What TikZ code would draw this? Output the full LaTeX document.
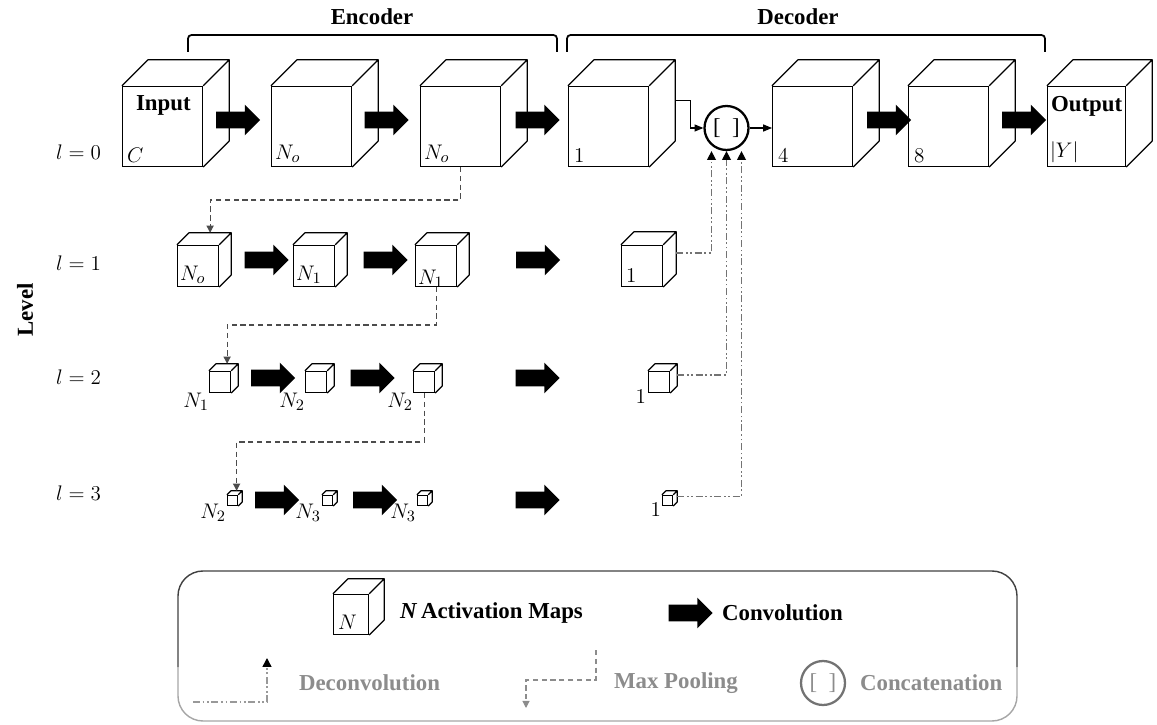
\documentclass[tikz,border=0pt]{standalone}
\usepackage{fontspec}
\setmainfont{Liberation Serif}
\usetikzlibrary{shapes.arrows,arrows.meta}

\newcommand{\figfont}{\fontsize{13}{15}\selectfont}
\newcommand{\actmap}[5]{%
  \node[mapface,minimum width=#3,minimum height=#4,anchor=south west] (#1) at (#2) {};
  \draw[mapedge] (#1.north west) -- ++(#5,#5) -- ([shift={(#5,#5)}]#1.north east) -- ([shift={(#5,#5)}]#1.south east) -- (#1.south east) (#1.north east) -- ++(#5,#5);
  \coordinate (#1-top) at ([shift={(#5,#5)}]#1.north);
  \coordinate (#1-side) at ([shift={(#5,#5)}]#1.east);
}

\begin{document}
\begin{tikzpicture}[font=\figfont,
  mapface/.style={draw,fill=white,inner sep=0pt,line width=0.7pt},
  mapedge/.style={line width=0.7pt,line join=round},
  conv/.style={single arrow,fill=black,inner xsep=0pt,inner ysep=0.16cm,minimum height=0.88cm,single arrow head extend=0.14cm,single arrow tip angle=90,single arrow head indent=0pt},
  pool/.style={black!70,line width=0.6pt,dash pattern=on 3pt off 2pt,-{Triangle[length=4pt,width=4pt]}},
  deconv/.style={black!55,line width=0.8pt,dash pattern=on 4pt off 1.5pt on 1pt off 1.5pt on 1pt off 1.5pt,-{Triangle[length=5pt,width=5pt,color=black]}},
  catline/.style={line width=0.6pt,-{Triangle[length=5pt,width=4pt]}},
  concat/.style={circle,draw,line width=1.3pt,minimum size=0.88cm,inner sep=0pt},
  brk/.style={line width=1pt,rounded corners=2pt},
  lbl/.style={inner sep=1pt},
  bold/.style={font=\figfont\bfseries},
  faded/.style={font=\figfont\bfseries,text=black!45}]
\useasboundingbox (0,0) rectangle (23.14,14.48);
\draw[brk] (3.76,13.44) |- (11.14,13.78) -- (11.14,13.44);
\draw[brk] (11.34,13.44) |- (20.90,13.78) -- (20.90,13.44);
\node[bold] (enclbl) at (7.44,14.14) {Encoder};
\node[bold] (declbl) at (15.96,14.14) {Decoder};
\node[bold,rotate=90] (levellbl) at (0.50,8.28) {Level};
\node (lvl0) at (1.57,11.44) {$l=0$};
\node (lvl1) at (1.57,9.22) {$l=1$};
\node (lvl2) at (1.57,6.94) {$l=2$};
\node (lvl3) at (1.57,4.62) {$l=3$};
\actmap{E0a}{2.44,11.14}{1.6cm}{1.6cm}{0.52}
\actmap{E0b}{5.42,11.14}{1.6cm}{1.6cm}{0.52}
\actmap{E0c}{8.40,11.14}{1.6cm}{1.6cm}{0.52}
\actmap{D0a}{11.36,11.14}{1.6cm}{1.6cm}{0.52}
\actmap{D0b}{15.44,11.14}{1.6cm}{1.6cm}{0.52}
\actmap{D0c}{18.16,11.14}{1.6cm}{1.6cm}{0.52}
\actmap{D0d}{20.94,11.14}{1.56cm}{1.6cm}{0.52}
\node[lbl,bold,anchor=north west] at ([shift={(0.24,-0.16)}]E0a.north west) {Input};
\node[lbl,bold,anchor=north west] at ([shift={(0.04,-0.16)}]D0d.north west) {Output};
\node[lbl,anchor=south west] at ([shift={(0.06,0.04)}]E0a.south west) {$C$};
\node[lbl,anchor=south west] at ([shift={(0.04,0.04)}]E0b.south west) {$N_o$};
\node[lbl,anchor=south west] at ([shift={(0.04,0.04)}]E0c.south west) {$N_o$};
\node[lbl,anchor=south west] at ([shift={(0.08,0.04)}]D0a.south west) {$1$};
\node[lbl,anchor=south west] at ([shift={(0.08,0.04)}]D0b.south west) {$4$};
\node[lbl,anchor=south west] at ([shift={(0.08,0.04)}]D0c.south west) {$8$};
\node[lbl,anchor=south west] at ([shift={(0.02,0.04)}]D0d.south west) {$|Y|$};
\node[conv] (c0a) at (4.68,12.08) {};
\node[conv] (c0b) at (7.65,12.08) {};
\node[conv] (c0c) at (10.67,12.08) {};
\node[conv] (c0d) at (17.70,12.08) {};
\node[conv] (c0e) at (20.40,12.08) {};
\node[concat] (cat) at (14.53,11.92) {[\ \ ]};
\draw[catline] (D0a-side) -- ++(0.30,0) |- (cat.west);
\draw[catline] (cat.east) -- (cat.east -| D0b.west);
\actmap{E1a}{3.54,8.74}{0.82cm}{0.82cm}{0.24}
\actmap{E1b}{5.86,8.74}{0.82cm}{0.82cm}{0.24}
\actmap{E1c}{8.30,8.74}{0.82cm}{0.82cm}{0.24}
\actmap{D1}{12.42,8.74}{0.82cm}{0.82cm}{0.26}
\node[lbl,anchor=south west] at ([shift={(0.02,0.02)}]E1a.south west) {$N_o$};
\node[lbl,anchor=south west] at ([shift={(0.02,0.02)}]E1b.south west) {$N_1$};
\node[lbl,anchor=south west] at ([shift={(0.02,-0.06)}]E1c.south west) {$N_1$};
\node[lbl,anchor=south west] at ([shift={(0.06,0.04)}]D1.south west) {$1$};
\node[conv] (c1a) at (5.25,9.28) {};
\node[conv] (c1b) at (7.63,9.28) {};
\node[conv] (c1c) at (10.68,9.28) {};
\actmap{E2a}{4.18,6.62}{0.42cm}{0.42cm}{0.14}
\actmap{E2b}{6.10,6.62}{0.42cm}{0.42cm}{0.14}
\actmap{E2c}{8.26,6.62}{0.42cm}{0.42cm}{0.14}
\actmap{D2}{12.96,6.62}{0.42cm}{0.42cm}{0.14}
\node[lbl,anchor=north east] at ([shift={(0.04,0.04)}]E2a.south west) {$N_1$};
\node[lbl,anchor=north east] at ([shift={(0.04,0.04)}]E2b.south west) {$N_2$};
\node[lbl,anchor=north east] at ([shift={(0.04,0.04)}]E2c.south west) {$N_2$};
\node[lbl,anchor=east] at ([yshift=-0.08cm]D2.south west) {$1$};
\node[conv] (c2a) at (5.38,6.92) {};
\node[conv] (c2b) at (7.37,6.92) {};
\node[conv] (c2c) at (10.67,6.92) {};
\actmap{E3a}{4.54,4.36}{0.2cm}{0.2cm}{0.08}
\actmap{E3b}{6.44,4.36}{0.2cm}{0.2cm}{0.08}
\actmap{E3c}{8.34,4.36}{0.2cm}{0.2cm}{0.08}
\actmap{D3}{13.24,4.36}{0.2cm}{0.2cm}{0.08}
\node[lbl,anchor=north east] at ([shift={(0.02,0.08)}]E3a.south west) {$N_2$};
\node[lbl,anchor=north east] at ([shift={(0.02,0.08)}]E3b.south west) {$N_3$};
\node[lbl,anchor=north east] at ([shift={(0.02,0.08)}]E3c.south west) {$N_3$};
\node[lbl,anchor=north east] at ([shift={(0.02,0.1)}]D3.south west) {$1$};
\node[conv] (c3a) at (5.46,4.48) {};
\node[conv] (c3b) at (7.42,4.48) {};
\node[conv] (c3c) at (10.67,4.48) {};
\draw[pool] (E0c.south) -- ++(0,-0.66) -| (E1a-top);
\draw[pool] (E1c.south) -- ++(0,-0.76) -| (E2a-top);
\draw[pool] (E2c.south) -- ++(0,-0.98) -| (E3a-top);
\draw[deconv] (D1-side) -| ([xshift=-0.3cm]cat.south);
\draw[deconv] (D2-side) -| (cat.south);
\draw[deconv] (D3-side) -| ([xshift=0.3cm]cat.south);
\draw[line width=0.8pt,black!75,rounded corners=0.5cm] (3.56,1.14) -- (3.56,3.06) -- (20.34,3.06) -- (20.34,1.14);
\draw[line width=0.8pt,black!35,rounded corners=0.5cm] (20.34,1.14) -- (20.34,0.06) -- (3.56,0.06) -- (3.56,1.14);
\actmap{Lmap}{6.66,1.78}{0.70cm}{0.80cm}{0.30}
\node[lbl,anchor=south west] at ([shift={(0.06,0.06)}]Lmap.south west) {$N$};
\node[lbl,bold,anchor=west] (Lmaptxt) at (7.96,2.22) {\textit{N}\,Activation Maps};
\node[conv] (Lconv) at (13.73,2.22) {};
\node[lbl,bold,anchor=west] (Lconvtxt) at (14.40,2.22) {Convolution};
\coordinate (Ldc) at (3.86,0.44);
\draw[deconv,black!40] (Ldc) -| ++(1.48,0.88);
\node[lbl,faded,anchor=west] (Ldctxt) at (5.94,0.82) {Deconvolution};
\coordinate (Lmp) at (11.92,1.48);
\draw[pool,black!45] (Lmp) |- ++(-1.40,-0.60) -- ++(0,-0.56);
\node[lbl,faded,anchor=west] (Lmptxt) at (12.24,0.82) {Max Pooling};
\node[concat,draw=black!55,text=black!45] (Lcat) at (16.46,0.82) {[\ \ ]};
\node[lbl,faded,anchor=west] (Lcattxt) at (17.16,0.82) {Concatenation};
\end{tikzpicture}
\end{document}
